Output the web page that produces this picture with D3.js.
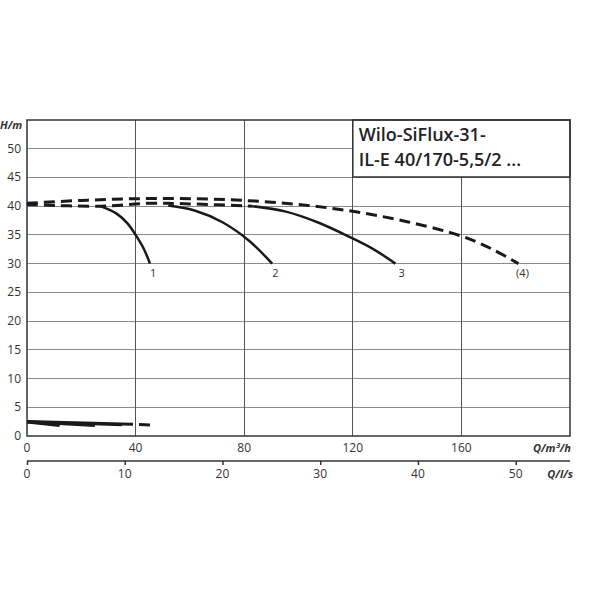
<!DOCTYPE html>
<html>
<head>
<meta charset="utf-8">
<script src="https://cdn.jsdelivr.net/npm/d3@7"></script>
<style>
body { margin: 0; background: #fff; }
text { font-family: "Open Sans", sans-serif; fill: #333; }
.grid line { shape-rendering: crispEdges; }
</style>
</head>
<body>
<svg width="600" height="600"></svg>
<script>
// axis ticks
var qTicks = [0, 40, 80, 120, 160];
var hTicks = [0, 5, 10, 15, 20, 25, 30, 35, 40, 45, 50];
var lsTicks = [0, 10, 20, 30, 40, 50];
var titleLines = ["Wilo-SiFlux-31-", "IL-E 40/170-5,5/2 ..."];

// head curves, [Q m3/h, H m]
var curveMax = [[0,40.5],[20,41.0],[40,41.3],[60,41.3],[80,41.0],[100,40.3],[120,39.1],[140,37.3],[160,34.8],[171,32.6],[181,30]];
var curveLow = [[0,40.3],[27,40.0],[45,40.5],[60,40.4],[83,40.0]];
var curve1 = [[27,40],[33,38.7],[37,37.0],[40,35],[43,32.6],[45.3,30]];
var curve2 = [[52,40.1],[62,39.2],[72,37.2],[82,33.9],[90.3,30]];
var curve3 = [[83,40],[95,39.1],[107,37.2],[119,34.6],[128,32.4],[135.7,30]];
var curveLabels = [["1",46.5,28.3],["2",91.5,28.3],["3",138,28.3],["(4)",182.5,28.3]];

// NPSH-like curves at the bottom
var npshA = [[0,2.4],[12,1.8]];
var npshB = [[0,2.45],[25,1.8]];
var npshC = [[0,2.5],[35,1.9]];
var npshTop = [[0,2.55],[35,2.15]];
var npshMax = [[35,2.1],[47,1.9]];

var svg = d3.select("svg");
var mLeft = 27, mRight = 570, mTop = 120, mBottom = 436;

var x = d3.scaleLinear().domain([0, 200]).range([mLeft, mRight]);
var y = d3.scaleLinear().domain([0, 55]).range([mBottom, mTop]);
var xls = d3.scaleLinear().domain([0, 200 / 3.6]).range([mLeft, mRight]);

var boxLeft = x(120), boxBottom = 177;

// grid
var grid = svg.append("g").attr("class", "grid");
grid.selectAll(".h").data(hTicks.filter(function (d) { return d > 0; }))
  .enter().append("line")
  .attr("x1", mLeft).attr("y1", function (d) { return y(d); })
  .attr("x2", function (d) { return y(d) < boxBottom ? boxLeft : mRight; })
  .attr("y2", function (d) { return y(d); })
  .attr("stroke", "#8a8a8a").attr("stroke-width", 1);
grid.selectAll(".v").data(qTicks.filter(function (d) { return d > 0; }))
  .enter().append("line")
  .attr("x1", function (d) { return x(d); }).attr("x2", function (d) { return x(d); })
  .attr("y1", function (d) { return x(d) > boxLeft ? boxBottom : mTop; })
  .attr("y2", mBottom)
  .attr("stroke", "#555").attr("stroke-width", 1);

// title box
svg.append("rect").attr("x", boxLeft).attr("y", mTop)
  .attr("width", mRight - boxLeft).attr("height", boxBottom - mTop)
  .attr("fill", "#fff").attr("stroke", "#333").attr("stroke-width", 1.5);
svg.selectAll(".title").data(titleLines).enter().append("text")
  .attr("x", boxLeft + 6).attr("y", function (d, i) { return 141 + i * 25; })
  .style("font-size", "18px").style("font-weight", 600).style("fill", "#222")
  .text(function (d) { return d; });

// frame
svg.append("rect").attr("x", mLeft).attr("y", mTop)
  .attr("width", mRight - mLeft).attr("height", mBottom - mTop)
  .attr("fill", "none").attr("stroke", "#333").attr("stroke-width", 1.5);

// tick labels
svg.selectAll(".yl").data(hTicks).enter().append("text")
  .attr("x", 21).attr("y", function (d) { return y(d) + 4; })
  .attr("text-anchor", "end").style("font-size", "12px")
  .text(function (d) { return d; });
svg.selectAll(".xl").data(qTicks).enter().append("text")
  .attr("x", function (d) { return x(d); }).attr("y", 452)
  .attr("text-anchor", "middle").style("font-size", "12px")
  .text(function (d) { return d; });

svg.append("text").attr("x", 0).attr("y", 129)
  .style("font-size", "11px").style("font-weight", 700).style("font-style", "italic")
  .text("H/m");
svg.append("text").attr("x", 571).attr("y", 452).attr("text-anchor", "end")
  .style("font-size", "11px").style("font-weight", 700).style("font-style", "italic")
  .text("Q/m³/h");

// second axis l/s
var lsAxis = d3.axisBottom(xls).tickValues(lsTicks).tickSize(4).tickFormat("");
var ga = svg.append("g").attr("transform", "translate(0,461)").call(lsAxis);
ga.select(".domain").attr("d", "M" + mLeft + ",0H" + mRight).attr("stroke", "#333").attr("stroke-width", 1.5);
ga.selectAll(".tick line").attr("stroke", "#333").attr("stroke-width", 1.5);
svg.selectAll(".lsl").data(lsTicks).enter().append("text")
  .attr("x", function (d) { return xls(d); }).attr("y", 478)
  .attr("text-anchor", "middle").style("font-size", "12px")
  .text(function (d) { return d; });
svg.append("text").attr("x", 573).attr("y", 478).attr("text-anchor", "end")
  .style("font-size", "11px").style("font-weight", 700).style("font-style", "italic")
  .text("Q/l/s");

// curves
var line = d3.line().x(function (d) { return x(d[0]); }).y(function (d) { return y(d[1]); })
  .curve(d3.curveCatmullRom);

function draw(data, dashed, width) {
  svg.append("path").datum(data).attr("d", line)
    .attr("fill", "none").attr("stroke", "#1a1a1a")
    .attr("stroke-width", width)
    .attr("stroke-dasharray", dashed ? "11,6" : null);
}
draw(curveMax, true, 3);
draw(curveLow, true, 3);
draw(curve1, false, 2.5);
draw(curve2, false, 2.5);
draw(curve3, false, 2.5);
draw(npshTop, false, 2.5);
draw(npshA, false, 2.5);
draw(npshB, false, 2.5);
draw(npshC, false, 2.5);
draw(npshMax, true, 3);

svg.selectAll(".cl").data(curveLabels).enter().append("text")
  .attr("x", function (d) { return x(d[1]); }).attr("y", function (d) { return y(d[2]) + 4; })
  .attr("text-anchor", "middle").style("font-size", "11px")
  .text(function (d) { return d[0]; });
</script>
</body>
</html>
